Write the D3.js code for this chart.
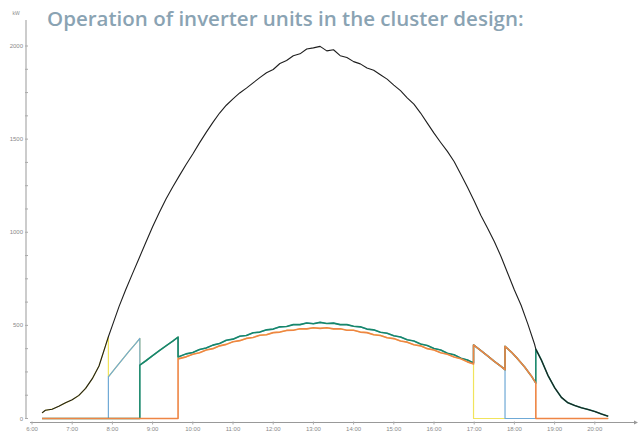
<!DOCTYPE html>
<html>
<head>
<meta charset="utf-8">
<script src="https://cdn.jsdelivr.net/npm/d3@7"></script>
<style>
	body { margin: 0; background: #fff; }
	svg { display: block; }
	.title { font-family: "Open Sans", sans-serif; font-weight: 600; fill: #8aa3b3; }
	.tick-label { font-family: "Liberation Sans", Arial, sans-serif; fill: #8a8a8a; }
</style>
</head>
<body>
<div id="chart"></div>
<script>

var titleText = "Operation of inverter units in the cluster design:";
var unitLabel = "kW";
var yTicks = [0, 500, 1000, 1500, 2000];
var xTicks = ["6:00", "7:00", "8:00", "9:00", "10:00", "11:00", "12:00", "13:00",
	"14:00", "15:00", "16:00", "17:00", "18:00", "19:00", "20:00"];

// total power (black)
var total = [
	["6:15", 30], ["6:20", 44], ["6:30", 50], ["6:40", 66], ["6:50", 84], ["7:00", 101],
	["7:10", 124], ["7:20", 162], ["7:30", 214], ["7:40", 282], ["7:50", 394], ["7:54", 439],
	["8:00", 500], ["8:10", 602], ["8:20", 693], ["8:30", 778], ["8:40", 862], ["8:50", 946],
	["9:00", 1030], ["9:10", 1106], ["9:20", 1178], ["9:30", 1243], ["9:40", 1304], ["9:50", 1364],
	["10:00", 1420], ["10:10", 1480], ["10:20", 1536], ["10:30", 1590], ["10:40", 1640], ["10:50", 1682],
	["11:00", 1716], ["11:10", 1748], ["11:20", 1774], ["11:30", 1802], ["11:40", 1830], ["11:50", 1856],
	["12:00", 1874], ["12:10", 1906], ["12:20", 1922], ["12:30", 1948], ["12:40", 1958], ["12:50", 1984],
	["13:00", 1990], ["13:10", 1998], ["13:20", 1974], ["13:30", 1980], ["13:40", 1948], ["13:50", 1938],
	["14:00", 1916], ["14:10", 1904], ["14:20", 1882], ["14:30", 1870], ["14:40", 1846], ["14:50", 1822],
	["15:00", 1790], ["15:10", 1760], ["15:20", 1722], ["15:30", 1688], ["15:40", 1640], ["15:50", 1586],
	["16:00", 1532], ["16:10", 1482], ["16:20", 1434], ["16:30", 1380], ["16:40", 1312], ["16:50", 1242],
	["17:00", 1168], ["17:10", 1090], ["17:20", 1022], ["17:30", 950], ["17:40", 870], ["17:50", 780],
	["18:00", 690], ["18:10", 608], ["18:20", 508], ["18:30", 400], ["18:32", 372], ["18:40", 316],
	["18:50", 232], ["19:00", 166], ["19:10", 114], ["19:20", 84], ["19:30", 70], ["19:40", 58],
	["19:50", 48], ["20:00", 38], ["20:10", 24], ["20:20", 12]
];

// shared values per running unit
var twoUnitsAM = [["7:54", 224], ["8:05", 273], ["8:15", 318], ["8:25", 362], ["8:35", 403], ["8:41", 430]];
var threeUnitsAM = [["8:41", 287], ["8:50", 310], ["9:00", 337], ["9:10", 364], ["9:20", 390], ["9:30", 415], ["9:38", 437]];

var fourUnitsHigh = [
	["9:38", 330], ["9:50", 347], ["10:00", 354], ["10:10", 370], ["10:20", 379], ["10:30", 394],
	["10:40", 403], ["10:50", 420], ["11:00", 426], ["11:10", 442], ["11:20", 446], ["11:30", 460],
	["11:40", 464], ["11:50", 476], ["12:00", 480], ["12:10", 492], ["12:20", 494], ["12:30", 504],
	["12:40", 504], ["12:50", 513], ["13:00", 509], ["13:10", 516], ["13:20", 510], ["13:30", 512],
	["13:40", 504], ["13:50", 504], ["14:00", 495], ["14:10", 492], ["14:20", 480], ["14:30", 476],
	["14:40", 463], ["14:50", 458], ["15:00", 444], ["15:10", 438], ["15:20", 423], ["15:30", 416],
	["15:40", 400], ["15:50", 392], ["16:00", 376], ["16:10", 368], ["16:20", 350], ["16:30", 342],
	["16:40", 324], ["16:50", 314], ["16:59", 298]
];
var fourUnitsLow = [
	["9:38", 320], ["9:50", 331], ["10:00", 345], ["10:10", 353], ["10:20", 368], ["10:30", 375],
	["10:40", 390], ["10:50", 398], ["11:00", 412], ["11:10", 418], ["11:20", 430], ["11:30", 435],
	["11:40", 447], ["11:50", 450], ["12:00", 461], ["12:10", 464], ["12:20", 473], ["12:30", 474],
	["12:40", 482], ["12:50", 481], ["13:00", 487], ["13:10", 484], ["13:20", 487], ["13:30", 481],
	["13:40", 482], ["13:50", 474], ["14:00", 474], ["14:10", 464], ["14:20", 461], ["14:30", 450],
	["14:40", 446], ["14:50", 434], ["15:00", 429], ["15:10", 416], ["15:20", 410], ["15:30", 396],
	["15:40", 390], ["15:50", 375], ["16:00", 368], ["16:10", 353], ["16:20", 345], ["16:30", 330],
	["16:40", 321], ["16:50", 304], ["16:59", 293]
];

var threeUnitsPM = [["16:59", 395], ["17:10", 365], ["17:20", 336], ["17:30", 307], ["17:40", 280], ["17:46", 262]];
var twoUnitsPM = [["17:46", 388], ["17:55", 358], ["18:05", 320], ["18:15", 278], ["18:25", 230], ["18:32", 190]];

var unitColors = {
	yellow: "#f1e45c",
	blue: "#6fa9d6",
	green: "#17876a",
	orange: "#ee8544"
};

var width = 640, height = 433;
var parseTime = d3.timeParse("%H:%M");

var x = d3.scaleTime()
	.domain([parseTime("6:00"), parseTime("21:00")])
	.range([32, 635]);

var y = d3.scaleLinear()
	.domain([0, 2000])
	.range([418.5, 46]);

function before(series, t) {
	return series.filter(function(d) { return parseTime(d[0]) <= parseTime(t); });
}
function after(series, t) {
	return series.filter(function(d) { return parseTime(d[0]) >= parseTime(t); });
}

// build each unit from the running segments
var units = [
	{ name: "yellow", data: [].concat(before(total, "7:54"), twoUnitsAM, threeUnitsAM, fourUnitsLow,
		[["16:59", 0], ["20:20", 0]]) },
	{ name: "blue", data: [].concat([["6:15", 0], ["7:54", 0]], twoUnitsAM, threeUnitsAM, fourUnitsHigh,
		threeUnitsPM, [["17:46", 0], ["20:20", 0]]) },
	{ name: "green", data: [].concat([["6:15", 0], ["8:41", 0]], threeUnitsAM, fourUnitsHigh,
		threeUnitsPM, twoUnitsPM, after(total, "18:32")) },
	{ name: "orange", data: [].concat([["6:15", 0], ["9:38", 0]], fourUnitsLow,
		threeUnitsPM, twoUnitsPM, [["18:32", 0], ["20:20", 0]]) }
];

var svg = d3.select("#chart").append("svg")
	.attr("width", width)
	.attr("height", height);

svg.append("text")
	.classed("title", true)
	.attr("x", 47)
	.attr("y", 26)
	.attr("font-size", 20.5)
	.text(titleText);

// y axis
var yAxis = svg.append("g");
yAxis.append("line")
	.attr("x1", 26).attr("x2", 26)
	.attr("y1", 20).attr("y2", y(0))
	.attr("stroke", "#999").attr("stroke-width", 1);

yAxis.selectAll("line.minor")
	.data(d3.range(0, 2001, 125))
	.enter()
	.append("line")
	.classed("minor", true)
	.attr("x1", 25).attr("x2", 28)
	.attr("y1", function(d) { return y(d); })
	.attr("y2", function(d) { return y(d); })
	.attr("stroke", "#aaa");

yAxis.selectAll("text")
	.data(yTicks)
	.enter()
	.append("text")
	.classed("tick-label", true)
	.attr("x", 23)
	.attr("y", function(d) { return y(d) + 2; })
	.attr("text-anchor", "end")
	.attr("font-size", 6)
	.text(function(d) { return d; });

svg.append("text")
	.classed("tick-label", true)
	.attr("x", 16)
	.attr("y", 15)
	.attr("text-anchor", "middle")
	.attr("font-size", 5)
	.text(unitLabel);

// x axis
var xAxisY = 422.5;
var xAxis = svg.append("g");
xAxis.append("line")
	.attr("x1", 30).attr("x2", 634)
	.attr("y1", xAxisY).attr("y2", xAxisY)
	.attr("stroke", "#999");
xAxis.append("path")
	.attr("d", "M634," + (xAxisY - 2) + " L638," + xAxisY + " L634," + (xAxisY + 2) + " z")
	.attr("fill", "#999");

xAxis.selectAll("line.tick")
	.data(xTicks)
	.enter()
	.append("line")
	.classed("tick", true)
	.attr("x1", function(d) { return x(parseTime(d)); })
	.attr("x2", function(d) { return x(parseTime(d)); })
	.attr("y1", xAxisY - 1).attr("y2", xAxisY + 2)
	.attr("stroke", "#aaa");

xAxis.selectAll("text")
	.data(xTicks)
	.enter()
	.append("text")
	.classed("tick-label", true)
	.attr("x", function(d) { return x(parseTime(d)); })
	.attr("y", 431)
	.attr("text-anchor", "middle")
	.attr("font-size", 6)
	.text(function(d) { return d; });

var line = d3.line()
	.x(function(d) { return x(parseTime(d[0])); })
	.y(function(d) { return y(d[1]); });

svg.append("g")
	.selectAll("path")
	.data(units)
	.enter()
	.append("path")
	.attr("d", function(d) { return line(d.data); })
	.attr("fill", "none")
	.attr("stroke", function(d) { return unitColors[d.name]; })
	.attr("stroke-width", function(d) { return (d.name == "green" || d.name == "orange") ? 1.6 : 1.2; })
	.attr("stroke-linejoin", "round");

svg.append("path")
	.attr("d", line(total))
	.attr("fill", "none")
	.attr("stroke", "#1e1e1e")
	.attr("stroke-width", 1.1)
	.attr("stroke-linejoin", "round");

</script>
</body>
</html>
